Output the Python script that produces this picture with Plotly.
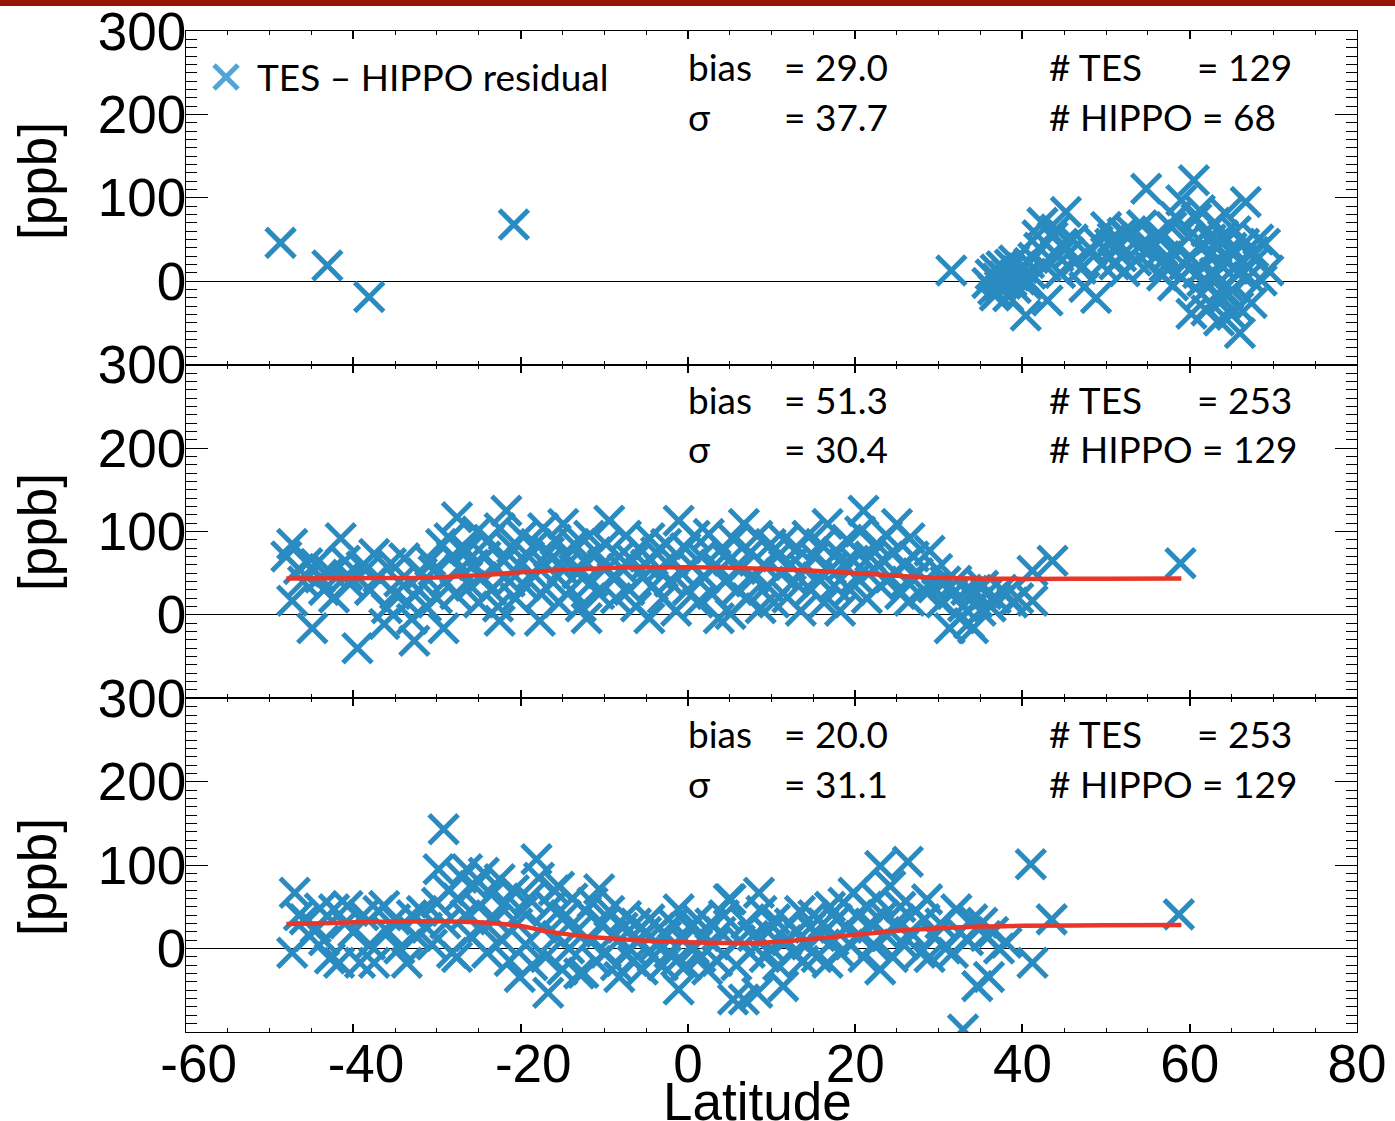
import plotly.graph_objects as go
from plotly.subplots import make_subplots

# ---------------- data ----------------
lat1 = [-48.7, -43.1, -38.1, -20.8, 31.5,
        35.8, 36.2, 36.5, 36.8, 37.0, 37.3, 37.5, 37.8, 38.0, 38.2, 38.5, 38.7, 39.0, 39.2, 39.4, 39.7, 40.0, 40.2,
        40.5, 40.8, 41.0, 41.3, 39.0, 37.0, 38.3,
        36.7, 40.4, 43.0, 42.4, 45.2, 43.6, 42.0, 41.8, 44.3, 45.6, 44.8, 46.5, 47.4, 48.8, 48.3, 47.0, 49.5, 50.0,
        50.5, 51.2, 51.8, 52.7, 52.2, 53.6, 54.3, 54.8, 55.5, 56.0, 56.7, 56.7, 57.3, 57.8, 58.3, 58.5, 59.0, 59.4,
        59.9, 60.5, 60.2, 60.8, 61.0, 61.4, 61.6, 62.0, 62.3, 62.6, 62.8, 63.0, 63.2, 63.5, 63.7, 64.0, 64.3, 64.5,
        64.6, 64.9, 65.2, 65.5, 65.8, 66.0, 66.2, 66.5, 66.7, 67.0, 67.4, 67.6, 67.9, 68.2, 68.6, 69.0, 69.4, 61.2,
        62.5, 63.8, 65.0, 60.0, 59.0, 58.0, 57.0, 55.0, 53.0, 50.8, 49.0, 46.0, 44.0, 42.8, 44.5, 54.0, 52.0, 51.0,
        62.0, 64.0, 65.0, 61.5, 63.0, 66.0]
val1 = [46, 19, -19, 68, 13,
        -2, 8, -10, 14, 3, -6, 18, 5, -3, 10, 20, 0, 7, -8, 12, 2, 16, 5,
        -4, 22, 9, 28, 25, -14, -18,
        -17, -41, -23, 70, 83, 53, 40, 55, 30, 34, 45, 25, -7, -20, 37, 15, 20, 65,
        45, 41, 30, 53, 12, 25, 67, 111, 40, 55, 7, 53, 30, 65, 77, 40, 97, 20,
        53, 121, -39, 75, 10, -15, 45, 60, 30, -27, 5, 70, 40, -47, 20, 55, 81, -5,
        -15, 35, 15, 60, -31, -62, 25, 45, 95, 5, -26, 35, 25, 50, 1, 45, 13, 85,
        50, -10, 40, 30, 5, -5, 18, 20, 60, 52, 48, 50, 62, 18, 10, 42, 58, 20,
        -35, -22, -40, 0, 10, 10]

lat2 = [-48.0, -47.3, -47.3, -46.5, -46.0, -45.5, -44.9, -44.5, -44.0, -43.5, -42.8, -42.3, -41.5, -41.0, -40.7,
        -40.4, -39.5, -39.0, -38.3, -38.0, -37.5, -37.0, -36.3, -36.0, -35.5, -35.0, -34.5, -33.9, -33.5, -33.0,
        -32.7, -32.2, -31.8, -31.3, -30.8, -30.4, -30.0, -29.5, -29.2, -29.0, -28.5, -28.2, -27.8, -27.6, -27.2,
        -26.8, -26.4, -26.0, -25.6, -25.2, -25.0, -24.6,
        -24.2, -23.8, -23.5, -23.0, -22.7, -22.5, -22.5, -22.0, -21.7, -21.3, -21.0, -20.6, -20.2, -19.8, -19.5,
        -19.0, -18.6, -18.2, -17.7, -17.5, -17.3, -17.0, -16.6, -16.2, -15.8, -15.4, -15.0, -14.9, -14.5, -14.0,
        -13.6, -13.2, -12.8, -12.4, -12.1, -11.8, -11.4, -11.0, -10.6, -10.2, -9.8, -9.4, -9.0, -8.6, -8.2, -7.8,
        -7.4, -7.0, -6.6, -6.2, -5.8, -5.4, -5.0, -4.6, -4.6, -4.2, -3.8, -3.4, -3.0, -2.6, -2.2, -1.8, -1.4, -1.1,
        -0.7, -0.3, 0.0,
        0.4, 0.8, 1.2, 1.6, 2.0, 2.5, 2.9, 3.3, 3.7, 4.1, 4.5, 4.9, 5.1, 5.5, 5.9, 6.3, 6.7, 7.1, 7.5, 7.9, 8.3,
        8.7, 9.1, 9.5, 9.9, 10.3, 10.7, 11.1, 11.5, 11.9, 12.3, 12.7, 13.1, 13.5, 13.9, 14.3, 14.7, 15.1, 15.5,
        15.9, 16.3, 16.7, 17.1, 17.5, 17.9, 18.2, 18.6, 19.0, 19.4, 19.8, 20.2, 20.6, 21.0, 21.4, 21.8, 22.2, 22.6,
        23.0, 23.4, 23.8, 24.2, 24.6, 25.0, 25.4, 25.8, 26.2, 26.5, 26.5, 27.0,
        27.5, 28.2, 28.9, 29.3, 29.8, 30.3, 30.8, 31.3, 31.6, 32.1, 32.5, 32.9, 33.3, 33.6, 34.0, 34.1, 34.6, 35.0,
        35.3, 35.7, 36.2, 36.8, 37.5, 38.1, 38.8, 39.5, 41.2, 41.2, 43.6, 58.9]
val2 = [70, 85, 17, 55, 40, 62, -16, 61, 45, 30, 52, 21, 92, 65, 48,
        37, -40, 58, 56, 30, 73, 45, -11, 8, 62, 25, 40, 68, 15, -5,
        -31, 30, 50, 10, 65, 53, 20, 85, -16, 40, 92, 70, 25, 117, 55,
        80, 77, 35, 60, 100, 15, 45,
        70, 90, 30, 55, 10, 104, -7, 65, 125, 40, 80, 20, 60, 95, 35,
        70, 50, 85, -7, 25, 104, 60, 75, 40, 90, 15, 55, 109, 70, 30,
        85, 50, 10, 65, -4, 95, 40, 75, 25, 60, 85, 113, 45, 20, 70, 55,
        95, 30, 65, 10, 80, 45, 60, -4, 92, 35, 75, 55, 20, 85, 40, 65, 5, 113,
        50, 80, 30,
        60, 95, 15, 70, 45, 97, 25, 60, -4, 80, 40, 65, 1, 90, 30, 55, 109, 20, 75, 45, 95,
        8, 60, 35, 85, 15, 70, 50, 90, 21, 60, 40, 80, 5, 55, 95, 30, 70, 45,
        85, 15, 109, 55, 35, 75, 5, 60, 90, 30, 65, 45, 100, 125, 20, 70, 55, 85,
        35, 65, 95, 45, 75, 109, 25, 60, 40, 92, 17, 70,
        50, 30, 77, 33, 55, 15, 40, -16, 25, 41, -4, 10, 30, -10, 29, -16, 15, 5,
        35, 25, 10, 20, 30, 25, 15, 20, 53, 17, 65, 62]

lat3 = [-47.3, -47.0, -46.5, -45.8, -45.2, -44.5, -44.0, -43.5, -42.8, -42.3, -41.7, -41.0, -40.7, -40.0, -39.2,
        -38.8, -38.0, -37.5, -37.0, -36.3, -35.8, -35.0, -34.5, -33.6, -33.0, -32.5,
        -31.8, -31.2, -30.6, -30.0, -29.8, -29.2, -29.0, -28.6, -28.2, -27.6, -27.5, -27.0, -26.6, -26.4, -26.0,
        -25.5, -25.0, -24.6, -24.4, -24.0, -23.5, -23.0, -22.5, -22.2, -21.8, -21.3, -20.8, -20.4, -20.1, -19.8,
        -19.4, -19.0, -18.6, -18.1, -17.8, -17.4, -17.0, -16.7, -16.4, -16.0, -15.6, -15.4, -15.0, -14.6, -14.2,
        -13.8, -13.4, -13.0, -12.5, -12.2, -11.8, -11.4, -11.0, -10.6, -10.2, -9.8, -9.4, -9.0, -8.6, -8.2, -7.8,
        -7.4, -7.0, -6.6, -6.2, -5.8, -5.4, -5.0, -4.6, -4.2, -3.8, -3.4, -3.0, -2.6, -2.2, -1.8, -1.4, -1.1, -1.1,
        -0.6, -0.2,
        0.3, 0.7, 1.1, 1.5, 1.9, 2.3, 2.7, 3.1, 3.5, 3.9, 4.3, 4.9, 5.1, 5.4, 5.8, 6.2, 6.7, 7.0, 7.4, 7.8, 8.3,
        8.5, 8.8, 9.2, 9.6, 10.0, 10.4, 10.8, 11.4, 11.8, 12.2, 12.6, 13.0, 13.4, 13.8, 14.2, 14.6, 15.0, 15.4,
        15.8, 16.2, 16.7, 17.0, 17.4, 17.8, 18.2, 18.6, 19.0, 19.4, 19.8, 20.2,
        20.6, 21.0, 21.4, 21.8, 22.2, 22.6, 23.0, 23.0, 23.4, 23.8, 24.2, 24.5, 24.9, 25.4, 25.8, 26.3, 26.6, 27.2,
        27.8, 28.3, 28.6, 28.9, 29.5, 30.2, 30.8, 31.7, 32.1, 32.5, 32.9, 33.5, 34.0, 34.6, 35.2, 35.6, 36.0, 36.5,
        37.2, 38.1, 41.0, 41.2, 43.5, 58.7]
val3 = [-5, 67, 40, 35, 15, 25, 48, 10, -12, 47, -17, 30, 51, 20, -17,
        40, 5, -17, 45, 51, 20, 35, 0, -17, 40, 15,
        45, 25, 5, 55, 95, 143, 30, 70, -5, -10, 60, 85, 40, 95, 15,
        75, 50, 25, 91, -5, 65, 35, 83, 10, 55, -15, 70, 30, -34, 45,
        5, 60, -20, 107, 85, 25, -10, -53, 50, 70, 15, 74, -25, 40, 0,
        60, 20, -30, -29, 45, 10, 55, -15, 71, 30, -5, 45, 15, -20, -34, 25,
        39, 0, -15, 30, 10, -25, 20, 35, -10, 5, 25, -20, 15, -5, 30, -15, 47, -49,
        10, -20,
        25, 0, 35, -10, 15, -25, 30, 5, -15, 20, 40, 59, 59, -61, -20, 10, -61, 30, -5, 15, -53,
        67, 45, -10, 20, 0, 35, -20, -45, 10, 30, -5, 20, 45, -15, 5, 25, 40, -10,
        15, 30, -17, 50, 10, 35, -5, 55, 25, 5, 67, 40,
        15, -10, 50, 30, 5, 60, 99, -25, 40, 15, 75, -10, 30, 50, 5, 104, 20, 45,
        -5, 35, 59, -10, 15, 30, 0, -5, 47, 20, -97, 10, 35, -45, 31, 15, -34, 20,
        0, 7, 101, -17, 35, 41]

fit_lat2 = [-48, -40, -30, -25, -20, -15, -10, -5, 0, 5, 10, 15, 20, 25, 30, 35, 40, 50, 59]
fit_val2 = [43.6, 44.0, 45.0, 47.5, 51.0, 54.0, 56.0, 57.0, 57.0, 56.5, 55.0, 53.0, 50.0, 47.0, 44.5, 43.5,
            43.2, 43.3, 43.6]
fit_lat3 = [-48, -45, -40, -35, -30, -25, -20, -16.5, -13, -10, -5, 0, 5, 8, 12, 16, 20, 25, 30, 35, 40, 50, 59]
fit_val3 = [29.6, 30.0, 31.5, 32.5, 32.8, 31.5, 27.0, 20.0, 15.5, 12.8, 9.5, 7.6, 6.8, 6.8, 9.0, 12.8, 16.5,
            21.5, 24.5, 26.5, 27.3, 28.0, 28.4]

x_ticks = [-60, -40, -20, 0, 20, 40, 60, 80]
x_ticktext = ["\u00a0\u2009-60", "\u00a0\u2009-40", "\u00a0\u2009-20", "0", "20", "40", "60", "80"]
y_ticks = [-100, 0, 100, 200, 300]
y_ticktext = ["", "0", "100", "200", "300"]

legend_label = "TES \u2013 HIPPO residual"
stats = [
    ("29.0", "37.7", "129", "68"),
    ("51.3", "30.4", "253", "129"),
    ("20.0", "31.1", "253", "129"),
]

# ---------------- figure ----------------
W, H = 1395, 1121
ML, MR, MT, MB = 186, 38, 31, 89
PW, PH = W - ML - MR, H - MT - MB


def fx(p):
    return (p - ML) / PW


def fy(p):
    return (H - MB - p) / PH


BLUE = "#2a8bc0"
LEG_BLUE = "#4ea5d6"
RED = "#e8372a"

fig = make_subplots(rows=3, cols=1, shared_xaxes=True, vertical_spacing=0)

marker = dict(symbol="x-thin", size=29, color=BLUE, line=dict(color=BLUE, width=5))
fig.add_trace(go.Scatter(x=lat1, y=val1, mode="markers", marker=marker,
                         name=legend_label, showlegend=False), row=1, col=1)
fig.add_trace(go.Scatter(x=lat2, y=val2, mode="markers", marker=marker, showlegend=False), row=2, col=1)
fig.add_trace(go.Scatter(x=fit_lat2, y=fit_val2, mode="lines", line=dict(color=RED, width=4.5, shape="spline"),
                         showlegend=False), row=2, col=1)
fig.add_trace(go.Scatter(x=lat3, y=val3, mode="markers", marker=marker, showlegend=False), row=3, col=1)
fig.add_trace(go.Scatter(x=fit_lat3, y=fit_val3, mode="lines", line=dict(color=RED, width=4.5, shape="spline"),
                         showlegend=False), row=3, col=1)

tickfont = dict(family="Liberation Sans, Arial, sans-serif", size=53, color="black")
for i in range(1, 4):
    fig.update_xaxes(
        range=[-60, 80], tickmode="array", tickvals=x_ticks, ticktext=x_ticktext,
        ticks="inside", ticklen=8, tickwidth=1.5, tickcolor="black",
        showline=True, linecolor="black", linewidth=1.2, mirror="allticks",
        minor=dict(tickmode="linear", tick0=0, dtick=5, ticks="inside", ticklen=4, tickwidth=1, tickcolor="black"),
        showgrid=False, zeroline=False, showticklabels=(i == 3), tickfont=tickfont,
        ticklabelstandoff=-15, automargin=False, row=i, col=1)
    fig.update_yaxes(
        range=[-100, 300], tickmode="array", tickvals=y_ticks, ticktext=y_ticktext,
        ticks="inside", ticklen=22, tickwidth=1.2, tickcolor="black",
        showline=True, linecolor="black", linewidth=1.2, mirror="allticks",
        minor=dict(tickmode="linear", tick0=0, dtick=10, ticks="inside", ticklen=11, tickwidth=1, tickcolor="black"),
        showgrid=False, zeroline=True, zerolinecolor="black", zerolinewidth=1,
        tickfont=tickfont, ticklabelstandoff=-12, automargin=False, row=i, col=1)

txtfont = dict(family="Lato, Open Sans, sans-serif", size=37, color="black")
ann = []
row_y = [(66, 116), (399, 449), (733, 783)]
for (b, s, nt, nh), (y1, y2) in zip(stats, row_y):
    for text, xp, yp in [("bias", 686, y1), ("= " + b, 782, y1), ("\u03c3", 686, y2), ("= " + s, 782, y2),
                         ("# TES", 1047, y1), ("= " + nt, 1195, y1), ("# HIPPO = " + nh, 1047, y2)]:
        ann.append(dict(text=text, x=fx(xp), y=fy(yp), xref="paper", yref="paper", xanchor="left",
                        yanchor="middle", showarrow=False, font=txtfont))
ann.append(dict(text=legend_label, x=fx(255), y=fy(76), xref="paper", yref="paper", xanchor="left",
                yanchor="middle", showarrow=False, font=txtfont))

labfont = dict(family="Liberation Sans, Arial, sans-serif", size=53, color="black")
for yc in (181, 532, 877):
    ann.append(dict(text="[ppb]", x=fx(37), y=fy(yc), xref="paper", yref="paper", xanchor="center",
                    yanchor="middle", textangle=-90, showarrow=False, font=labfont))
ann.append(dict(text="Latitude", x=fx(757), y=fy(1101), xref="paper", yref="paper", xanchor="center",
                yanchor="middle", showarrow=False, font=labfont))

# legend key (an X drawn as two strokes) and the dark red band at the top
kx, ky, kr = 226, 77, 12
shapes = [
    dict(type="line", xref="paper", yref="paper", x0=fx(kx - kr), y0=fy(ky - kr), x1=fx(kx + kr), y1=fy(ky + kr),
         line=dict(color=LEG_BLUE, width=5)),
    dict(type="line", xref="paper", yref="paper", x0=fx(kx - kr), y0=fy(ky + kr), x1=fx(kx + kr), y1=fy(ky - kr),
         line=dict(color=LEG_BLUE, width=5)),
    dict(type="rect", xref="paper", yref="paper", x0=fx(0), x1=fx(W), y0=fy(6), y1=fy(0),
         fillcolor="#961400", line=dict(width=0), layer="above"),
]

fig.update_layout(
    width=W, height=H, margin=dict(l=ML, r=MR, t=MT, b=MB, autoexpand=False),
    paper_bgcolor="white", plot_bgcolor="white",
    annotations=ann,
    showlegend=False,
    shapes=shapes,
)

fig.write_html("out.html")
